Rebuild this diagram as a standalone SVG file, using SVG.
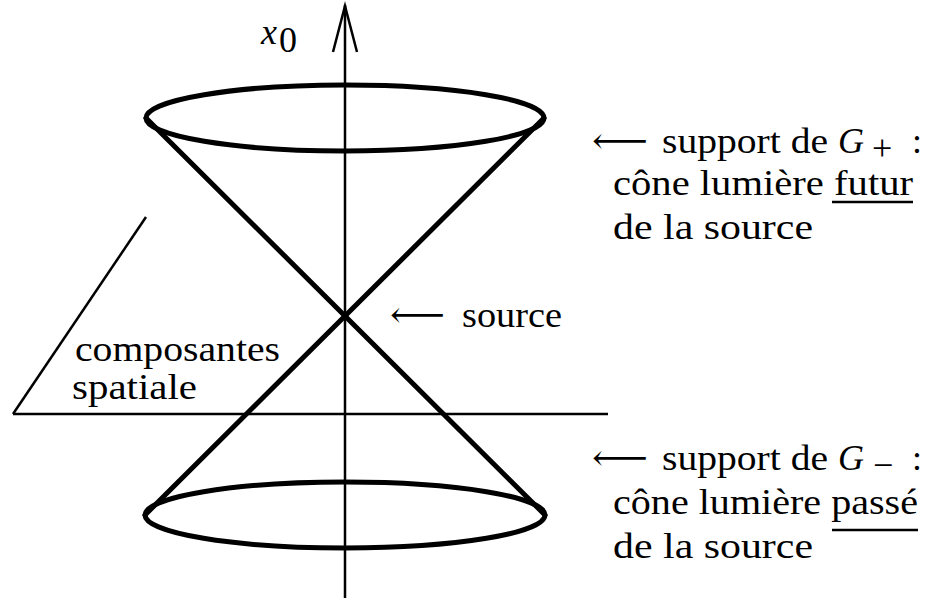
<svg xmlns="http://www.w3.org/2000/svg" width="941" height="598" viewBox="0 0 941 598">
<style>
.t{font-family:"Liberation Serif","Times New Roman",Times,"DejaVu Serif",serif;font-size:36px;fill:#000}
.ar{font-family:"DejaVu Serif","DejaVu Sans",serif;font-size:36px;fill:#000}
.thick{fill:none;stroke:#000;stroke-width:5;stroke-linecap:round;stroke-linejoin:round}
.thin{fill:none;stroke:#000;stroke-width:2.5}
.ul{stroke:#000;stroke-width:2.5}
</style>
<rect width="941" height="598" fill="#fff"/>
<g id="connectors">
  <line class="thin" x1="345" y1="5" x2="345" y2="598"/>
  <polyline class="thin" points="333,52 345,6 357,52"/>
  <line class="thin" x1="13" y1="414" x2="608" y2="414"/>
  <line class="thin" x1="13" y1="414" x2="146" y2="217"/>
</g>
<g id="cone">
  <ellipse class="thick" cx="345" cy="118" rx="199" ry="33"/>
  <ellipse class="thick" cx="345" cy="515" rx="200" ry="33"/>
  <line class="thick" x1="146" y1="118" x2="545" y2="515"/>
  <line class="thick" x1="544" y1="118" x2="145" y2="515"/>
</g>
<g id="axis-label">
  <text class="t" x="261" y="44" font-style="italic">x</text>
  <text class="t" x="279" y="52" font-size="24">0</text>
</g>
<g id="label-spatial">
  <text class="t" x="75" y="361" textLength="205" lengthAdjust="spacingAndGlyphs">composantes</text>
  <text class="t" x="72" y="399" textLength="125" lengthAdjust="spacingAndGlyphs">spatiale</text>
</g>
<g id="label-source">
  <text class="ar" x="390" y="327" textLength="55" lengthAdjust="spacingAndGlyphs">⟵</text>
  <text class="t" x="462" y="327" textLength="100" lengthAdjust="spacingAndGlyphs">source</text>
</g>
<g id="label-future">
  <text class="ar" x="592" y="153" textLength="56" lengthAdjust="spacingAndGlyphs">⟵</text>
  <text class="t" x="662" y="153" textLength="166" lengthAdjust="spacingAndGlyphs">support de</text>
  <text class="t" x="838" y="153" font-style="italic">G</text>
  <text class="t" x="872" y="160" font-size="24">+</text>
  <text class="t" x="912" y="153">:</text>
  <text class="t" x="613" y="195" textLength="300" lengthAdjust="spacingAndGlyphs">cône lumière futur</text>
  <line class="ul" x1="832" y1="202" x2="913" y2="202"/>
  <text class="t" x="613" y="239" textLength="200" lengthAdjust="spacingAndGlyphs">de la source</text>
</g>
<g id="label-past">
  <text class="ar" x="592" y="470" textLength="56" lengthAdjust="spacingAndGlyphs">⟵</text>
  <text class="t" x="662" y="470" textLength="166" lengthAdjust="spacingAndGlyphs">support de</text>
  <text class="t" x="838" y="470" font-style="italic">G</text>
  <text class="t" x="873" y="477" font-size="24">−</text>
  <text class="t" x="912" y="470">:</text>
  <text class="t" x="613" y="514" textLength="305" lengthAdjust="spacingAndGlyphs">cône lumière passé</text>
  <line class="ul" x1="832" y1="530" x2="918" y2="530"/>
  <text class="t" x="613" y="558" textLength="200" lengthAdjust="spacingAndGlyphs">de la source</text>
</g>
</svg>
